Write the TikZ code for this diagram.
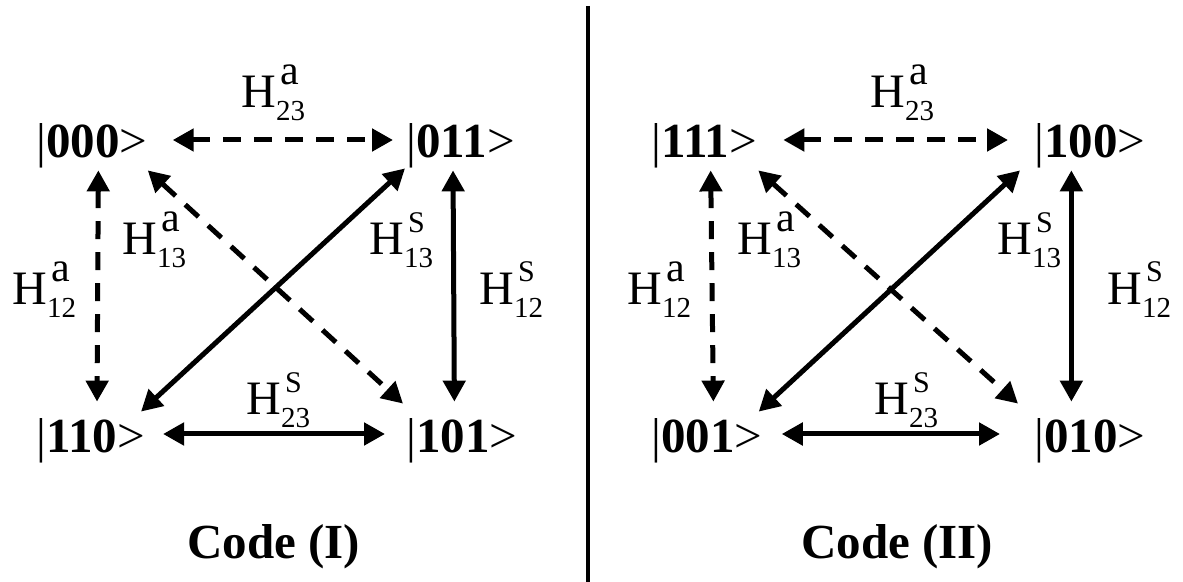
\documentclass[tikz,border=0pt]{standalone}
\usepackage{fontspec}
\setmainfont{Liberation Serif}
\usetikzlibrary{arrows.meta,calc}
\newcommand\Hl[3]{H\rlap{\hspace{2pt}\raisebox{#3}{\fontsize{21}{21}\selectfont #1}}\raisebox{-6.5pt}{\fontsize{14.5}{14.5}\selectfont #2}}
\newcommand\Sx{\fontsize{15}{15}\selectfont S}
\tikzset{
  state/.style={inner sep=0pt, anchor=base west, text height=20pt, text depth=2pt, font=\fontsize{24.5}{26}\selectfont},
  lab/.style={inner sep=0pt, anchor=base west, font=\fontsize{24}{26}\selectfont},
  captxt/.style={inner sep=0pt, anchor=base west, font=\fontsize{24.5}{26}\selectfont\bfseries},
  arr/.style={line width=2.5pt, {Triangle[length=10.5pt,width=11pt]}-{Triangle[length=10.5pt,width=11pt]}},
  dsh/.style={dash pattern=on 9pt off 6.5pt}
}
\begin{document}
\begin{tikzpicture}[x=0.5pt,y=-0.5pt]
\useasboundingbox (0,0) rectangle (1183,582);
% divider
\draw[line width=2pt] (588,6) -- (588,582);
% ---------- Code (I)
\node[state] (a1) at (36,158) {|\textbf{000}>};
\node[state] (a2) at (406,158) {|\textbf{011}>};
\node[state] (a3) at (36,452) {|\textbf{110}>};
\node[state] (a4) at (406,452) {|\textbf{101}>};
\draw[arr,dsh] ($(a1.east)+(25,0)$) -- ($(a2.west)+(-13,0)$);
\draw[arr,dsh] ($(a1.south)+(6.5,8)$) -- ($(a3.north)+(6.5,-10)$);
\draw[arr] ($(a2.south)+(-7.5,8)$) -- ($(a4.north)+(-7.5,-10)$);
\draw[arr] ($(a3.east)+(18,0)$) -- ($(a4.west)+(-21,0)$);
\draw[arr] ($(a2.south west)+(-1,6)$) -- ($(a3.north east)+(-4,0)$);
\draw[arr,dsh] ($(a1.south east)+(0,8)$) -- ($(a4.north west)+(-3,-8)$);
\node[lab] (l1) at (241,108) {\Hl{a}{23}{11.5pt}};
\node[lab] (l2) at (122,255) {\Hl{a}{13}{11.5pt}};
\node[lab] (l3) at (12,305) {\Hl{a}{12}{11.5pt}};
\node[lab] (l4) at (369,255) {\Hl{\Sx}{13}{11pt}};
\node[lab] (l5) at (479,305) {\Hl{\Sx}{12}{11.5pt}};
\node[lab] (l6) at (246,415) {\Hl{\Sx}{23}{11pt}};
\node[captxt] (c1) at (187,558) {Code (I)};
% ---------- Code (II)
\node[state] (b1) at (651,158) {|\textbf{111}>};
\node[state] (b2) at (1034,158) {|\textbf{100}>};
\node[state] (b3) at (651,452) {|\textbf{001}>};
\node[state] (b4) at (1034,452) {|\textbf{010}>};
\draw[arr,dsh] ($(b1.east)+(26,0)$) -- ($(b2.west)+(-26,0)$);
\draw[arr,dsh] ($(b1.south)+(6.5,8)$) -- ($(b3.north)+(6.5,-10)$);
\draw[arr] ($(b2.south)+(-18.5,8)$) -- ($(b4.north)+(-18.5,-10)$);
\draw[arr] ($(b3.east)+(19,0)$) -- ($(b4.west)+(-34,0)$);
\draw[arr] ($(b2.south west)+(-14,8)$) -- ($(b3.north east)+(-4,0)$);
\draw[arr,dsh] ($(b1.south east)+(1,8)$) -- ($(b4.north west)+(-16,-8)$);
\node[lab] (m1) at (870,108) {\Hl{a}{23}{11.5pt}};
\node[lab] (m2) at (737,255) {\Hl{a}{13}{11.5pt}};
\node[lab] (m3) at (627,305) {\Hl{a}{12}{11.5pt}};
\node[lab] (m4) at (997,255) {\Hl{\Sx}{13}{11pt}};
\node[lab] (m5) at (1107,305) {\Hl{\Sx}{12}{11.5pt}};
\node[lab] (m6) at (874,415) {\Hl{\Sx}{23}{11pt}};
\node[captxt] (c2) at (801,558) {Code (II)};
\end{tikzpicture}
\end{document}
